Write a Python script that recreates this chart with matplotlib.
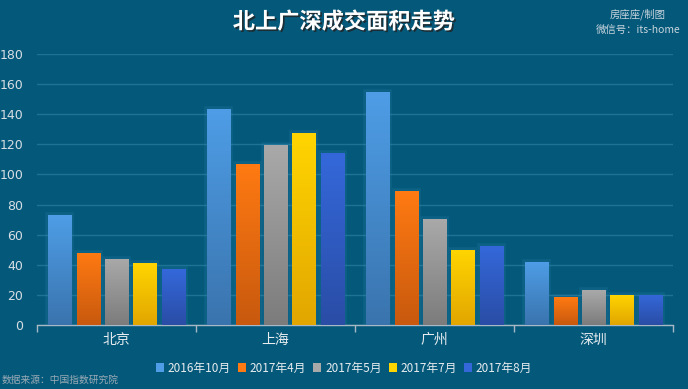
import matplotlib
matplotlib.use("Agg")
import matplotlib.pyplot as plt
import matplotlib.patheffects as pe
from matplotlib.colors import LinearSegmentedColormap
import numpy as np

plt.rcParams['font.family'] = ['Noto Sans CJK SC', 'DejaVu Sans']

categories = ['北京', '上海', '广州', '深圳']
series_names = ['2016年10月', '2017年4月', '2017年5月', '2017年7月', '2017年8月']
values = {
    '2016年10月': [73, 143.5, 154.5, 42],
    '2017年4月': [48, 107, 89, 18.5],
    '2017年5月': [44, 119.5, 70.5, 23],
    '2017年7月': [41, 127.5, 50, 20],
    '2017年8月': [37, 114.5, 52.5, 20],
}
colors_top = ['#4E9DE6', '#FF7A12', '#A9A9A9', '#FFD500', '#3468DA']
colors_bot = ['#3A74AE', '#C8590E', '#7C7C7C', '#E2A600', '#2A4DA6']
yticks = [0, 20, 40, 60, 80, 100, 120, 140, 160, 180]

bg = '#04597B'
fig = plt.figure(figsize=(6.88, 3.89), dpi=100, facecolor=bg)
ax = fig.add_axes([37/688, 1-325/389, 636/688, 271/389])
ax.set_facecolor(bg)

x = np.arange(len(categories))
pitch = 0.179
width = 0.145
for i, name in enumerate(series_names):
    offs = (i - 2) * pitch
    bars = ax.bar(x + offs, values[name], width=width, color=colors_top[i], label=name,
                  linewidth=0, zorder=3)
    cmap = LinearSegmentedColormap.from_list('g%d' % i, [colors_bot[i], colors_top[i]])
    for b in bars:
        x0, y0 = b.get_x(), b.get_y()
        w, h = b.get_width(), b.get_height()
        grad = np.linspace(0, 1, 100).reshape(-1, 1)
        im = ax.imshow(grad, extent=[x0, x0 + w, y0, y0 + h], origin='lower',
                       cmap=cmap, aspect='auto', zorder=4)
        im.set_clip_path(b)
        b.set_path_effects([pe.withStroke(linewidth=4, foreground='#2F86AE', alpha=0.2)])

ax.set_xlim(-0.5, 3.5)
ax.set_ylim(0, 180)
ax.set_yticks(yticks)
ax.set_yticklabels([str(v) for v in yticks], color='#D8DEE4', fontsize=9,
                   family=['DejaVu Sans'])
ax.grid(axis='y', color='#1E7394', linewidth=1, zorder=0)
ax.tick_params(axis='y', length=0, pad=10)

ax.set_xticks(x)
ax.set_xticklabels(categories, color='#E8ECEF', fontsize=10)
ax.tick_params(axis='x', length=0, pad=6)
ax.set_xticks([-0.5, 0.5, 1.5, 2.5, 3.5], minor=True)
ax.tick_params(axis='x', which='minor', length=5, color='#A8B8C4', width=1)

for s in ['top', 'right', 'left']:
    ax.spines[s].set_visible(False)
ax.spines['bottom'].set_color('#A8B8C4')
ax.spines['bottom'].set_linewidth(1)

leg = fig.legend(*ax.get_legend_handles_labels(), loc='center', bbox_to_anchor=(0.5, 1-368/389),
                 ncol=5, frameon=False, fontsize=8.5, handlelength=0.7, handleheight=0.7,
                 handletextpad=0.3, columnspacing=0.6, labelcolor='#E8ECEF')
for h in leg.legend_handles:
    h.set_path_effects([])

fig.text(0.5, 1-22/389, '北上广深成交面积走势', ha='center', va='center', fontsize=16,
         color='white', fontweight='bold',
         path_effects=[pe.withSimplePatchShadow(offset=(1.2, -1.2), shadow_rgbFace='#222222', alpha=0.8)])
fig.text(638/688, 1-14/389, '房座座/制图', ha='center', va='center', fontsize=7.5, color='#C8D4DC')
fig.text(638/688, 1-30/389, '微信号：its-home', ha='center', va='center', fontsize=7.5, color='#C8D4DC')
fig.text(2/688, 1-380/389, '数据来源：中国指数研究院', ha='left', va='center', fontsize=7, color='#9AAAB4')

fig.savefig('out.png', dpi=100, facecolor=bg)
